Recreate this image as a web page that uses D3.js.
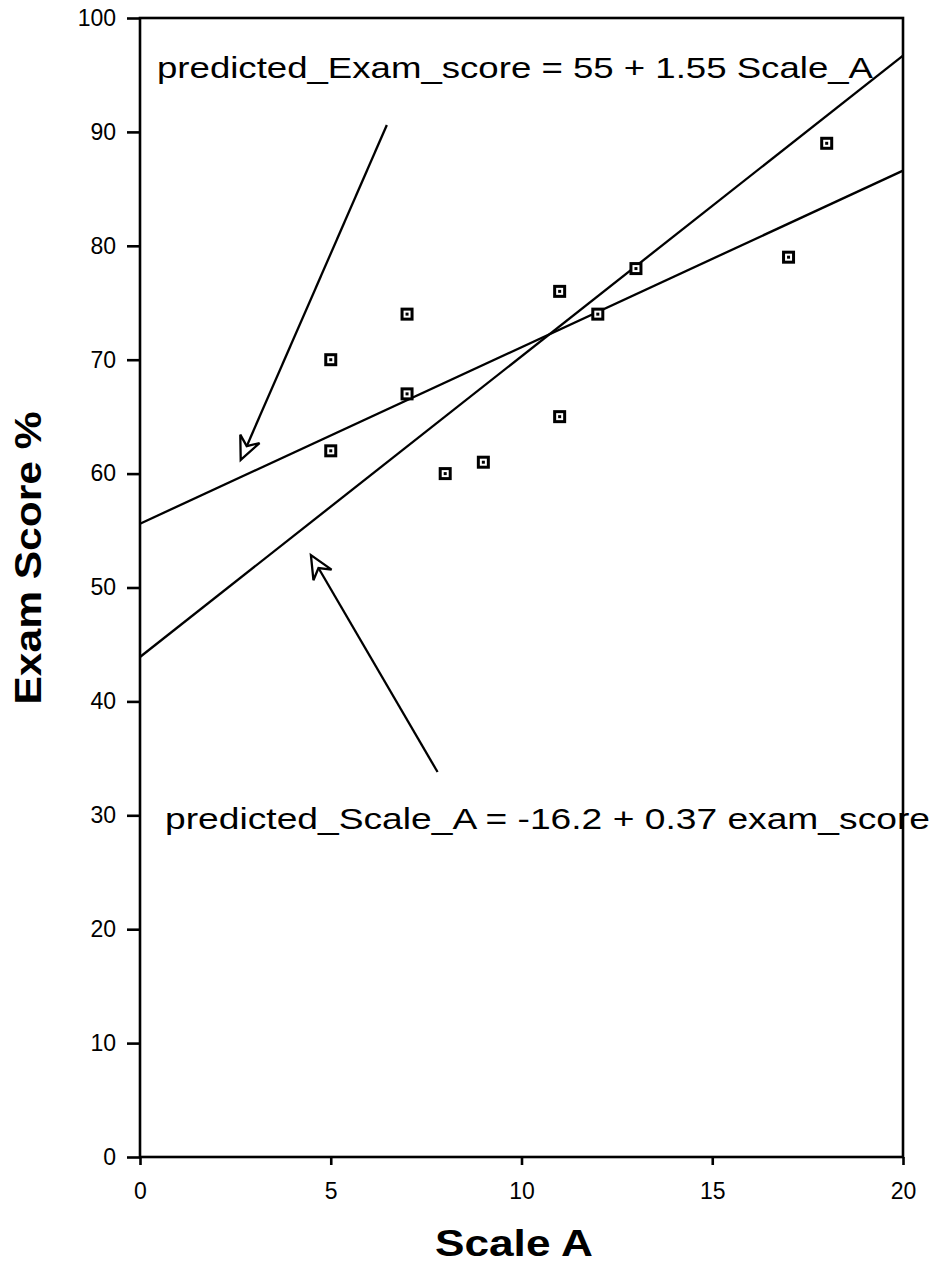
<!DOCTYPE html>
<html>
<head>
<meta charset="utf-8">
<script src="https://cdn.jsdelivr.net/npm/d3@7"></script>
<style>
  html, body { margin: 0; padding: 0; background: #fff; }
  svg { display: block; font-family: "Liberation Sans", Arial, sans-serif; }
</style>
</head>
<body>
<svg id="chart" width="936" height="1266"></svg>
<script>
// ---- data ----
const scaleA = [5, 5, 7, 7, 8, 9, 11, 11, 12, 13, 17, 18];
const examScore = [70, 62, 74, 67, 60, 61, 76, 65, 74, 78, 79, 89];
const xTicks = [0, 5, 10, 15, 20];
const yTicks = [0, 10, 20, 30, 40, 50, 60, 70, 80, 90, 100];
const lineIntercepts = [55.6, 43.9];
const lineSlopes = [1.55, 2.64];
const equations = [
  "predicted_Exam_score = 55 + 1.55 Scale_A",
  "predicted_Scale_A = -16.2 + 0.37 exam_score"
];
// arrows in data coordinates: start -> tip
const arrowStartX = [6.47, 7.8];
const arrowStartY = [90.6, 33.8];
const arrowTipX = [2.64, 4.48];
const arrowTipY = [61.2, 52.85];

// ---- layout ----
const svg = d3.select("#chart");
const L = 140, R = 903, T = 18, B = 1157;
const x = d3.scaleLinear().domain([0, 20]).range([L, R]);
const y = d3.scaleLinear().domain([0, 100]).range([B, T]);

// axes
const yAxis = svg.append("g").attr("transform", `translate(${L},0)`)
  .call(d3.axisLeft(y).tickValues(yTicks).tickSize(13).tickPadding(11).tickFormat(d3.format("d")));
const xAxis = svg.append("g").attr("transform", `translate(0,${B})`)
  .call(d3.axisBottom(x).tickValues(xTicks).tickSize(8).tickPadding(18).tickFormat(d3.format("d")));
[yAxis, xAxis].forEach(g => {
  g.select(".domain").remove();
  g.selectAll(".tick line").attr("stroke", "#000").attr("stroke-width", 2.6);
  g.selectAll(".tick text").attr("fill", "#000").style("font-size", "23px")
    .style("font-family", "'Liberation Sans', Arial, sans-serif");
});

// frame
svg.append("rect").attr("x", L).attr("y", T).attr("width", R - L).attr("height", B - T)
  .attr("fill", "none").attr("stroke", "#000").attr("stroke-width", 2.6);

// regression lines
lineIntercepts.forEach((a, i) => {
  const b = lineSlopes[i];
  svg.append("line")
    .attr("x1", x(0)).attr("y1", y(a))
    .attr("x2", x(20)).attr("y2", y(a + b * 20))
    .attr("stroke", "#000").attr("stroke-width", 2.3);
});

// points
const pts = svg.append("g").selectAll("g").data(scaleA.map((v, i) => [v, examScore[i]]))
  .join("g").attr("transform", d => `translate(${x(d[0])},${y(d[1])})`);
pts.append("rect").attr("x", -5).attr("y", -5).attr("width", 10).attr("height", 10)
  .attr("fill", "#fff").attr("stroke", "#000").attr("stroke-width", 3);
pts.append("rect").attr("x", -1.5).attr("y", -1.5).attr("width", 3).attr("height", 3)
  .attr("fill", "#000");

// arrows
arrowStartX.forEach((sx, i) => {
  const x1 = x(sx), y1 = y(arrowStartY[i]);
  const x2 = x(arrowTipX[i]), y2 = y(arrowTipY[i]);
  const dx = x1 - x2, dy = y1 - y2, len = Math.hypot(dx, dy);
  const ux = dx / len, uy = dy / len;   // from tip toward start
  const px = -uy, py = ux;
  const back = 23, half = 10.5, notch = 15;
  svg.append("line").attr("x1", x1).attr("y1", y1)
    .attr("x2", x2 + ux * notch).attr("y2", y2 + uy * notch)
    .attr("stroke", "#000").attr("stroke-width", 2.3);
  const p = [
    [x2, y2],
    [x2 + ux * back + px * half, y2 + uy * back + py * half],
    [x2 + ux * notch, y2 + uy * notch],
    [x2 + ux * back - px * half, y2 + uy * back - py * half]
  ];
  svg.append("path").attr("d", "M" + p.map(q => q.join(",")).join("L") + "Z")
    .attr("fill", "#fff").attr("stroke", "#000").attr("stroke-width", 2.3)
    .attr("stroke-linejoin", "miter");
});

// equation labels
const eqX = [157, 165], eqY = [78, 829], eqW = [716, 765];
equations.forEach((t, i) => {
  svg.append("text").attr("x", eqX[i]).attr("y", eqY[i])
    .attr("textLength", eqW[i]).attr("lengthAdjust", "spacingAndGlyphs")
    .style("font-size", "30px").attr("fill", "#000").text(t);
});

// axis titles
svg.append("text").attr("x", 514).attr("y", 1256).attr("text-anchor", "middle")
  .attr("textLength", 158).attr("lengthAdjust", "spacingAndGlyphs")
  .style("font-size", "36px").style("font-weight", "bold").text("Scale A");
svg.append("text").attr("transform", "translate(41,558) rotate(-90)").attr("text-anchor", "middle")
  .attr("textLength", 293).attr("lengthAdjust", "spacingAndGlyphs")
  .style("font-size", "37px").style("font-weight", "bold").text("Exam Score %");
</script>
</body>
</html>
